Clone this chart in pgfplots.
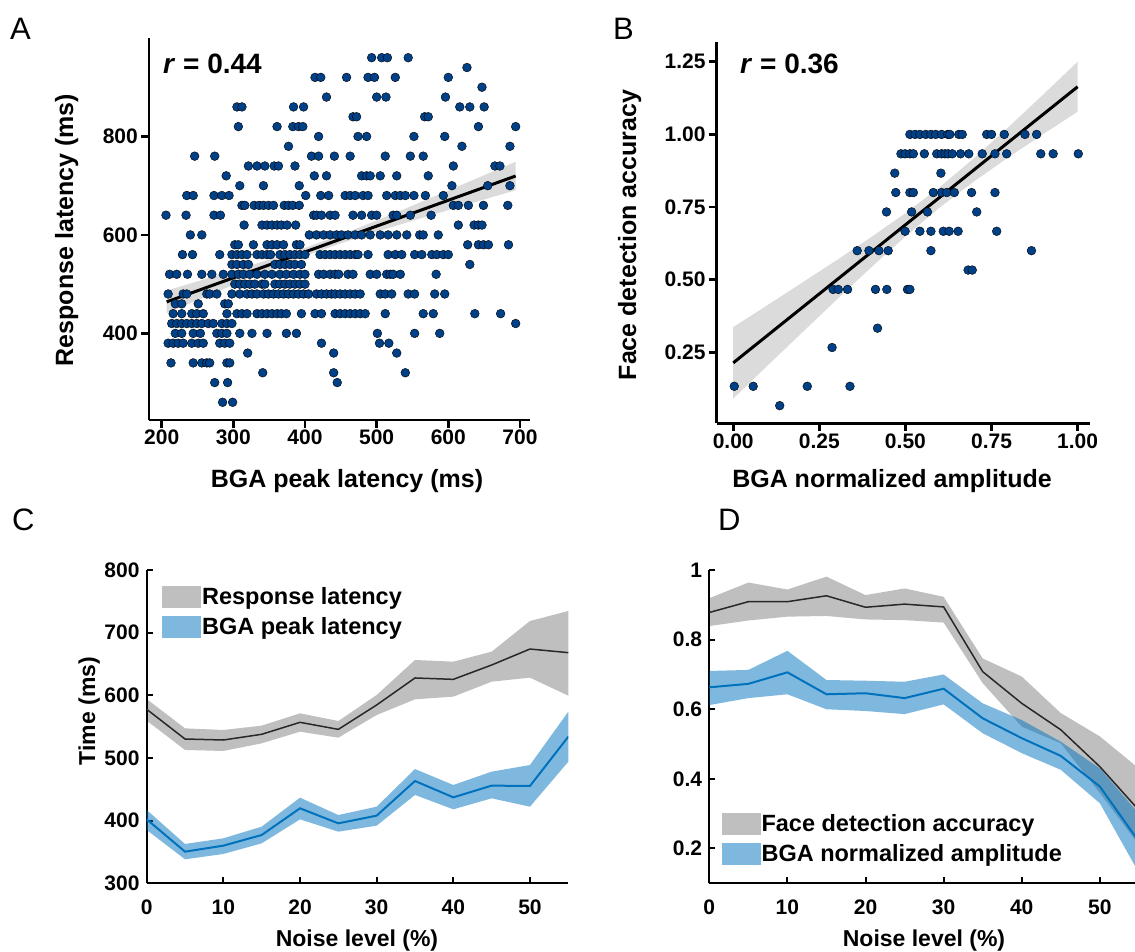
\documentclass[border=0pt]{standalone}
\usepackage{fontspec}
\setmainfont{Liberation Sans}
\usepackage{pgfplots}
\pgfplotsset{compat=1.18}
\definecolor{dotblue}{RGB}{0,64,135}
\definecolor{mblue}{RGB}{0,114,189}
\definecolor{bandgray}{RGB}{175,175,175}
\definecolor{lgray}{RGB}{40,40,40}
\newcommand\fs[1]{\fontsize{#1}{#1}\selectfont}
\pgfplotsset{
  topp/.style={scale only axis, axis x line*=bottom, axis y line*=left,
    axis line style={line width=2.7pt}, every tick/.style={line width=2.7pt, black},
    major tick length=8pt, tick align=outside,
    tick label style={font=\bfseries\fs{21}},
    /pgf/number format/assume math mode=true, /pgf/number format/1000 sep={},
    xticklabel style={inner sep=2pt}, yticklabel style={inner sep=3pt}},
  botp/.style={scale only axis, axis x line*=bottom, axis y line*=left,
    axis line style={line width=2pt}, every tick/.style={line width=2pt, black},
    major tick length=6pt, tick align=inside,
    tick label style={font=\bfseries\fs{21}},
    /pgf/number format/assume math mode=true, /pgf/number format/1000 sep={},
    xticklabel style={inner sep=0pt, yshift=-16pt}, yticklabel style={inner sep=0pt, xshift=-7pt},
    legend cell align=left,
    legend image code/.code={\fill[##1] (0pt,-11pt) rectangle (39pt,11pt);},
    legend style={draw=none, fill=none, font=\bfseries\fs{23.5}, inner sep=0pt, row sep=8pt,
      nodes={inner sep=1pt}, /tikz/every even column/.append style={column sep=9pt}}},
}
\begin{document}
\begin{tikzpicture}
% ---------------- Panel A ----------------
\begin{axis}[topp, at={(149pt,-420pt)}, anchor=south west, width=381pt, height=382pt,
  xmin=182.3, xmax=714, ymin=224, ymax=1000, xtick={200,300,400,500,600,700}, ytick={400,600,800}]
\addplot[only marks, mark=*, mark size=4.4pt, mark options={draw=none, fill=dotblue}] table[row sep=\\] {
x y\\
493 960\\ 507 960\\ 515 960\\ 544 960\\
626 940\\
414 920\\ 422 920\\ 458 920\\ 488 920\\ 497 920\\ 526 920\\ 600 920\\
647 900\\
430 880\\ 500 880\\ 513 880\\ 596 880\\
305 860\\ 312 860\\ 384 860\\ 398 860\\ 616 860\\ 630 860\\ 650 860\\
467 840\\ 472 840\\ 567 840\\ 572 840\\
307 820\\ 361 820\\ 383 820\\ 391 820\\ 397 820\\ 642 820\\ 694 820\\
419 800\\ 474 800\\ 486 800\\ 552 800\\ 595 800\\
377 780\\ 619 780\\ 686 780\\
246 760\\ 274 760\\ 409 760\\ 419 760\\ 441 760\\ 463 760\\ 512 760\\ 547 760\\ 565 760\\
321 740\\ 333 740\\ 344 740\\ 357 740\\ 363 740\\ 386 740\\ 607 740\\ 665 740\\ 672 740\\
290 720\\ 413 720\\ 430 720\\ 479 720\\ 486 720\\ 491 720\\ 505 720\\ 528 720\\ 572 720\\
309 700\\ 342 700\\ 392 700\\ 605 700\\ 655 700\\ 686 700\\
235 680\\ 244 680\\ 273 680\\ 284 680\\ 294 680\\ 401 680\\ 422 680\\ 433 680\\ 456 680\\ 463 680\\ 470 680\\ 481 680\\ 488 680\\ 514 680\\ 526 680\\ 533 680\\ 540 680\\ 552 680\\ 568 680\\ 593 680\\
312 660\\ 316 660\\ 329 660\\ 336 660\\ 342 660\\ 349 660\\ 356 660\\ 371 660\\ 377 660\\ 383 660\\ 392 660\\ 607 660\\ 614 660\\ 628 660\\ 649 660\\ 683 660\\
206 640\\ 234 640\\ 273 640\\ 282 640\\ 412 640\\ 416 640\\ 423 640\\ 435 640\\ 442 640\\ 467 640\\ 479 640\\ 493 640\\ 500 640\\ 523 640\\ 528 640\\ 547 640\\ 576 640\\
315 620\\ 340 620\\ 347 620\\ 354 620\\ 361 620\\ 367 620\\ 375 620\\ 387 620\\ 614 620\\ 636 620\\ 642 620\\ 647 620\\
240 600\\ 256 600\\ 406 600\\ 416 600\\ 426 600\\ 435 600\\ 444 600\\ 451 600\\ 460 600\\ 470 600\\ 479 600\\ 491 600\\ 505 600\\ 516 600\\ 528 600\\ 542 600\\ 560 600\\ 565 600\\ 586 600\\
302 580\\ 307 580\\ 328 580\\ 347 580\\ 354 580\\ 361 580\\ 370 580\\ 388 580\\ 393 580\\ 627 580\\ 642 580\\ 649 580\\ 656 580\\ 684 580\\
229 560\\ 243 560\\ 281 560\\ 298 560\\ 305 560\\ 312 560\\ 319 560\\ 333 560\\ 340 560\\ 347 560\\ 352 560\\ 365 560\\ 372 560\\ 379 560\\ 386 560\\ 393 560\\ 400 560\\ 421 560\\ 428 560\\ 435 560\\ 442 560\\ 449 560\\ 456 560\\ 463 560\\ 470 560\\ 474 560\\ 488 560\\ 516 560\\ 526 560\\ 535 560\\ 553 560\\ 563 560\\ 577 560\\ 584 560\\ 593 560\\ 600 560\\
298 540\\ 305 540\\ 314 540\\ 321 540\\ 358 540\\ 365 540\\ 372 540\\ 379 540\\ 386 540\\ 395 540\\ 630 540\\
211 520\\ 221 520\\ 236 520\\ 256 520\\ 270 520\\ 286 520\\ 298 520\\ 307 520\\ 314 520\\ 323 520\\ 333 520\\ 344 520\\ 354 520\\ 365 520\\ 374 520\\ 384 520\\ 393 520\\ 400 520\\ 419 520\\ 426 520\\ 435 520\\ 442 520\\ 447 520\\ 460 520\\ 467 520\\ 491 520\\ 500 520\\ 514 520\\ 519 520\\ 523 520\\ 533 520\\ 583 520\\
302 500\\ 309 500\\ 316 500\\ 323 500\\ 330 500\\ 340 500\\ 344 500\\ 358 500\\ 365 500\\ 372 500\\ 379 500\\ 386 500\\ 393 500\\ 400 500\\
209 480\\ 230 480\\ 235 480\\ 263 480\\ 267 480\\ 277 480\\ 298 480\\ 309 480\\ 319 480\\ 326 480\\ 333 480\\ 342 480\\ 349 480\\ 356 480\\ 363 480\\ 370 480\\ 377 480\\ 384 480\\ 391 480\\ 398 480\\ 405 480\\ 416 480\\ 423 480\\ 430 480\\ 437 480\\ 442 480\\ 449 480\\ 456 480\\ 463 480\\ 470 480\\ 477 480\\ 505 480\\ 512 480\\ 521 480\\ 544 480\\ 553 480\\ 581 480\\ 595 480\\
219 460\\ 228 460\\ 251 460\\ 288 460\\ 293 460\\
216 440\\ 228 440\\ 242 440\\ 249 440\\ 258 440\\ 291 440\\ 305 440\\ 312 440\\ 319 440\\ 333 440\\ 340 440\\ 347 440\\ 354 440\\ 361 440\\ 367 440\\ 374 440\\ 395 440\\ 414 440\\ 423 440\\ 442 440\\ 449 440\\ 456 440\\ 463 440\\ 470 440\\ 477 440\\ 484 440\\ 512 440\\ 565 440\\ 579 440\\ 637 440\\ 673 440\\
214 420\\ 221 420\\ 228 420\\ 235 420\\ 242 420\\ 249 420\\ 256 420\\ 265 420\\ 272 420\\ 284 420\\ 291 420\\ 298 420\\ 694 420\\
219 400\\ 228 400\\ 244 400\\ 254 400\\ 277 400\\ 284 400\\ 291 400\\ 309 400\\ 326 400\\ 347 400\\ 374 400\\ 388 400\\ 501 400\\ 553 400\\ 588 400\\
209 380\\ 216 380\\ 223 380\\ 230 380\\ 242 380\\ 251 380\\ 258 380\\ 281 380\\ 288 380\\ 295 380\\ 423 380\\ 504 380\\ 517 380\\
320 360\\ 440 360\\ 528 360\\
213 340\\ 244 340\\ 256 340\\ 263 340\\ 267 340\\ 291 340\\ 295 340\\
341 320\\ 440 320\\ 540 320\\
274 300\\ 292 300\\ 445 300\\
285 260\\ 299 260\\
};
\addplot[fill=bandgray, fill opacity=0.45, draw=none] coordinates {
(207,487) (250,505.6) (300,527.4) (350,549.8) (400,573.6) (450,600.2) (500,629.2) (550,659.5) (600,690.2) (650,721.2) (694,748.6)
(694,690.8) (650,672.0) (600,650.4) (550,628.7) (500,606.4) (450,583.0) (400,557.1) (350,528.4) (300,498.3) (250,467.6) (207,441)} -- cycle;
\addplot[black, line width=3pt] coordinates {(207,464) (694,719.7)};
\end{axis}
% ---------------- Panel B ----------------
\begin{axis}[topp, at={(716.7pt,-423.3pt)}, anchor=south west, width=373.3pt, height=381.6pt,
  xmin=-0.048, xmax=1.036, ymin=0.006, ymax=1.319,
  xtick={0,0.25,0.5,0.75,1}, xticklabels={0.00,0.25,0.50,0.75,1.00},
  ytick={0.25,0.5,0.75,1,1.25}, yticklabels={0.25,0.50,0.75,1.00,1.25}]
\addplot[only marks, mark=*, mark size=4.4pt, mark options={draw=none, fill=dotblue}] table[row sep=\\] {
x y\\
0.513 1\\ 0.528 1\\ 0.542 1\\ 0.559 1\\ 0.574 1\\ 0.588 1\\ 0.605 1\\ 0.623 1\\ 0.629 1\\ 0.655 1\\ 0.665 1\\ 0.736 1\\ 0.750 1\\ 0.787 1\\ 0.847 1\\ 0.881 1\\
0.487 0.9333\\ 0.499 0.9333\\ 0.513 0.9333\\ 0.523 0.9333\\ 0.555 0.9333\\ 0.591 0.9333\\ 0.605 0.9333\\ 0.615 0.9333\\ 0.624 0.9333\\ 0.636 0.9333\\ 0.660 0.9333\\ 0.684 0.9333\\ 0.723 0.9333\\ 0.760 0.9333\\ 0.794 0.9333\\ 0.893 0.9333\\ 0.929 0.9333\\ 1.002 0.9333\\
0.469 0.8667\\ 0.603 0.8667\\
0.472 0.8\\ 0.513 0.8\\ 0.523 0.8\\ 0.581 0.8\\ 0.605 0.8\\ 0.620 0.8\\ 0.642 0.8\\ 0.692 0.8\\ 0.760 0.8\\
0.445 0.7333\\ 0.518 0.7333\\ 0.564 0.7333\\ 0.707 0.7333\\
0.499 0.6667\\ 0.542 0.6667\\ 0.574 0.6667\\ 0.610 0.6667\\ 0.627 0.6667\\ 0.653 0.6667\\ 0.765 0.6667\\
0.360 0.6\\ 0.394 0.6\\ 0.423 0.6\\ 0.450 0.6\\ 0.574 0.6\\ 0.866 0.6\\
0.682 0.5333\\ 0.694 0.5333\\
0.290 0.4667\\ 0.305 0.4667\\ 0.332 0.4667\\ 0.413 0.4667\\ 0.446 0.4667\\ 0.506 0.4667\\ 0.513 0.4667\\
0.419 0.3333\\
0.287 0.2667\\
0.003 0.1333\\ 0.058 0.1333\\ 0.215 0.1333\\ 0.339 0.1333\\
0.135 0.0667\\
};
\addplot[fill=bandgray, fill opacity=0.45, draw=none] coordinates {
(0,0.337) (0.1,0.413) (0.2,0.490) (0.3,0.567) (0.4,0.646) (0.5,0.729) (0.6,0.819) (0.7,0.919) (0.8,1.026) (0.9,1.137) (1,1.250)
(1,1.078) (0.9,1.001) (0.8,0.922) (0.7,0.839) (0.6,0.749) (0.5,0.649) (0.4,0.542) (0.3,0.431) (0.2,0.318) (0.1,0.205) (0,0.091)} -- cycle;
\addplot[black, line width=3pt] coordinates {(0,0.214) (1,1.164)};
\end{axis}
% ---------------- Panel C ----------------
\begin{axis}[botp, at={(146.7pt,-883.3pt)}, anchor=south west, width=421.6pt, height=313.3pt,
  xmin=0, xmax=55, ymin=300, ymax=800, xtick={0,10,20,30,40,50}, ytick={300,400,500,600,700,800},
  legend style={at={(0.036,0.950)}, anchor=north west}]
\addplot[fill=black, fill opacity=0.25, draw=none] coordinates {
(0,594.1) (5,547.3) (10,544.7) (15,551.6) (20,571.3) (25,559) (30,600.5) (35,656.4) (40,653.7) (45,669.7) (50,718.6) (55,734.6)
(55,599.5) (50,628.2) (45,621.8) (40,597.9) (35,593.6) (30,568.6) (25,532.4) (20,542) (15,523.4) (10,511.2) (5,512.8) (0,559.6)} -- cycle;
\addlegendentry{Response latency}
\addplot[lgray, line width=1.5pt, forget plot] coordinates {
(0,577.7) (5,530.3) (10,528.7) (15,537.8) (20,556.9) (25,545.7) (30,584.6) (35,627.7) (40,625.5) (45,648.4) (50,673.9) (55,668.1)};
\addplot[fill=mblue, fill opacity=0.5, draw=none] coordinates {
(0,417) (5,362.8) (10,371.8) (15,390.4) (20,436.7) (25,409) (30,422.3) (35,482.4) (40,456.9) (45,478.2) (50,488.8) (55,573.9)
(55,494.1) (50,422.3) (45,435.6) (40,418.1) (35,441) (30,392) (25,382.4) (20,402.1) (15,363.8) (10,346.8) (5,338.3) (0,385.1)} -- cycle;
\addlegendentry{BGA peak latency}
\addplot[mblue, line width=2pt, forget plot] coordinates {
(0,402.1) (5,350.5) (10,360.1) (15,377.1) (20,419.7) (25,395.7) (30,408) (35,463.3) (40,437.2) (45,455.9) (50,455.3) (55,534)};
\end{axis}
% ---------------- Panel D ----------------
\begin{axis}[botp, at={(709.3pt,-883.3pt)}, anchor=south west, width=429.6pt, height=313.3pt,
  xmin=0, xmax=55, ymin=0.1, ymax=1, xtick={0,10,20,30,40,50},
  ytick={0.2,0.4,0.6,0.8,1}, yticklabels={0.2,0.4,0.6,0.8,1},
  legend style={at={(0.028,0.225)}, anchor=north west}]
\addplot[fill=black, fill opacity=0.25, draw=none] coordinates {
(0,0.919) (5,0.964) (10,0.944) (15,0.981) (20,0.928) (25,0.947) (30,0.923) (35,0.746) (40,0.694) (45,0.589) (50,0.522) (55,0.43)
(55,0.21) (50,0.36) (45,0.502) (40,0.55) (35,0.675) (30,0.849) (25,0.856) (20,0.858) (15,0.868) (10,0.866) (5,0.855) (0,0.839)} -- cycle;
\addlegendentry{Face detection accuracy}
\addplot[lgray, line width=1.5pt, forget plot] coordinates {
(0,0.878) (5,0.909) (10,0.909) (15,0.926) (20,0.893) (25,0.902) (30,0.894) (35,0.708) (40,0.617) (45,0.541) (50,0.435) (55,0.31)};
\addplot[fill=mblue, fill opacity=0.5, draw=none] coordinates {
(0,0.710) (5,0.713) (10,0.768) (15,0.684) (20,0.682) (25,0.679) (30,0.700) (35,0.617) (40,0.569) (45,0.507) (50,0.43) (55,0.30)
(55,0.13) (50,0.33) (45,0.426) (40,0.474) (35,0.531) (30,0.614) (25,0.586) (20,0.595) (15,0.600) (10,0.643) (5,0.632) (0,0.612)} -- cycle;
\addlegendentry{BGA normalized amplitude}
\addplot[mblue, line width=2pt, forget plot] coordinates {
(0,0.663) (5,0.673) (10,0.706) (15,0.643) (20,0.646) (25,0.632) (30,0.659) (35,0.574) (40,0.517) (45,0.466) (50,0.378) (55,0.22)};
\end{axis}
% ---------------- Texts ----------------
\node[anchor=base west, inner sep=0pt, font=\fs{31}] at (10pt,-40pt) {A};
\node[anchor=base west, inner sep=0pt, font=\fs{31}] at (613pt,-40pt) {B};
\node[anchor=base west, inner sep=0pt, font=\fs{31}] at (12pt,-530pt) {C};
\node[anchor=base west, inner sep=0pt, font=\fs{31}] at (718pt,-530pt) {D};
\node[anchor=base west, inner sep=0pt, font=\bfseries\fs{28}] at (163pt,-73.3pt) {\textit{r} = 0.44};
\node[anchor=base west, inner sep=0pt, font=\bfseries\fs{28}] at (740pt,-73.3pt) {\textit{r} = 0.36};
\node[anchor=base, inner sep=0pt, font=\bfseries\fs{25}] at (347pt,-487pt) {BGA peak latency (ms)};
\node[anchor=base, inner sep=0pt, font=\bfseries\fs{25}] at (892pt,-487pt) {BGA normalized amplitude};
\node[anchor=base, inner sep=0pt, rotate=90, font=\bfseries\fs{25}] at (73pt,-230pt) {Response latency (ms)};
\node[anchor=base, inner sep=0pt, rotate=90, font=\bfseries\fs{25}] at (636pt,-235pt) {Face detection accuracy};
\node[anchor=base, inner sep=0pt, rotate=90, font=\bfseries\fs{23}] at (95pt,-711pt) {Time (ms)};
\node[anchor=base, inner sep=0pt, font=\bfseries\fs{23}] at (357pt,-946pt) {Noise level (\%)};
\node[anchor=base, inner sep=0pt, font=\bfseries\fs{23}] at (924pt,-946pt) {Noise level (\%)};
\pgfresetboundingbox
\path[use as bounding box] (0pt,0pt) rectangle (1135pt,-952pt);
\end{tikzpicture}
\end{document}
